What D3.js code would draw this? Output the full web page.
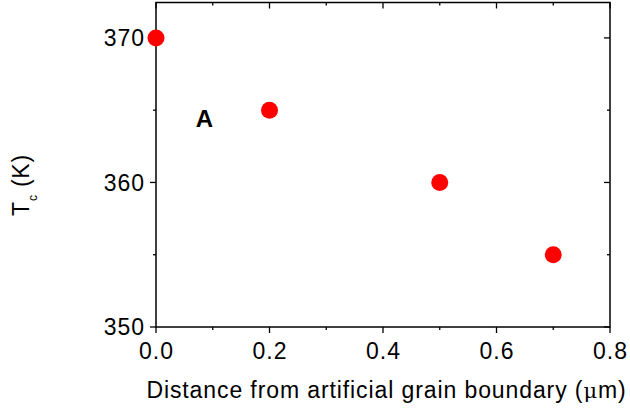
<!DOCTYPE html>
<meta charset="utf-8">
<body style="margin:0;background:#fff">
<script src="https://d3js.org/d3.v7.min.js"></script>
<script>
	// data
	var distance = [0.0, 0.2, 0.5, 0.7];
	var tc = [370, 365, 360, 355];
	var xTicks = [0.0, 0.2, 0.4, 0.6, 0.8];
	var yTicks = [350, 360, 370];

	var W = 630, H = 410;
	var pLeft = 156, pRight = 610, pTop = 2.5, pBottom = 327;

	var x = d3.scaleLinear().domain([0, 0.8]).range([pLeft, pRight]);
	var y = d3.scaleLinear().domain([350, 372.45]).range([pBottom, pTop]);

	var svg = d3.select("body").append("svg")
		.attr("width", W)
		.attr("height", H)
		.style("font-family", "Liberation Sans, Arial, sans-serif");

	// minor + major ticks
	var xMinor = d3.range(0, 0.81, 0.1).map(function(d) { return +d.toFixed(1); });
	var yMinor = [350, 355, 360, 365, 370];

	function isMajorX(d) { return Math.round(d * 10) % 2 == 0; }
	function isMajorY(d) { return d % 10 == 0; }

	var ax = svg.append("g").attr("stroke", "#000").attr("stroke-width", 1.3);

	// bottom (outward)
	ax.selectAll(".bt").data(xMinor).enter().append("line")
		.attr("x1", function(d) { return x(d); }).attr("x2", function(d) { return x(d); })
		.attr("y1", pBottom).attr("y2", function(d) { return pBottom + (isMajorX(d) ? 6 : 3); });
	// top (inward)
	ax.selectAll(".tt").data(xMinor).enter().append("line")
		.attr("x1", function(d) { return x(d); }).attr("x2", function(d) { return x(d); })
		.attr("y1", pTop).attr("y2", function(d) { return pTop + (isMajorX(d) ? 6 : 3); });
	// left (outward)
	ax.selectAll(".lt").data(yMinor).enter().append("line")
		.attr("y1", function(d) { return y(d); }).attr("y2", function(d) { return y(d); })
		.attr("x1", pLeft).attr("x2", function(d) { return pLeft - (isMajorY(d) ? 6 : 3); });
	// right (inward)
	ax.selectAll(".rt").data(yMinor).enter().append("line")
		.attr("y1", function(d) { return y(d); }).attr("y2", function(d) { return y(d); })
		.attr("x1", pRight).attr("x2", function(d) { return pRight - (isMajorY(d) ? 6 : 3); });

	// frame
	svg.append("rect")
		.attr("x", pLeft).attr("y", pTop)
		.attr("width", pRight - pLeft).attr("height", pBottom - pTop)
		.attr("fill", "none").attr("stroke", "#000").attr("stroke-width", 1.5);

	// tick labels
	svg.selectAll(".xl").data(xTicks).enter().append("text")
		.attr("x", function(d) { return x(d) + 0.5; })
		.attr("y", 359)
		.attr("text-anchor", "middle")
		.attr("font-size", 23)
		.attr("letter-spacing", 1)
		.text(function(d) { return d.toFixed(1); });

	svg.selectAll(".yl").data(yTicks).enter().append("text")
		.attr("x", 145)
		.attr("y", function(d) { return y(d) + 8.3; })
		.attr("text-anchor", "end")
		.attr("font-size", 23)
		.attr("letter-spacing", 1)
		.text(function(d) { return d; });

	// points
	svg.selectAll("circle").data(distance).enter().append("circle")
		.attr("cx", function(d) { return x(d); })
		.attr("cy", function(d, i) { return y(tc[i]); })
		.attr("r", 8.5)
		.attr("fill", "#ff0000");

	// panel letter
	svg.append("text")
		.attr("x", 204.5).attr("y", 127)
		.attr("text-anchor", "middle")
		.attr("font-size", 24).attr("font-weight", "bold")
		.text("A");

	// axis titles
	var xt = svg.append("text")
		.attr("x", 386.5).attr("y", 398)
		.attr("text-anchor", "middle")
		.attr("font-size", 23)
		.attr("letter-spacing", 0.9);
	xt.append("tspan").text("Distance from artificial grain boundary (");
	xt.append("tspan").text("\u03bc").attr("font-family", "DejaVu Serif, serif").attr("font-size", 21);
	xt.append("tspan").text("m)");

	var yt = svg.append("text")
		.attr("transform", "translate(29,185) rotate(-90)")
		.attr("text-anchor", "middle")
		.attr("font-size", 23)
		.attr("letter-spacing", 0.8);
	yt.append("tspan").text("T");
	yt.append("tspan").text("c").attr("font-size", 12).attr("dy", 8);
	yt.append("tspan").text(" (K)").attr("dy", -8);
</script>
</body>
